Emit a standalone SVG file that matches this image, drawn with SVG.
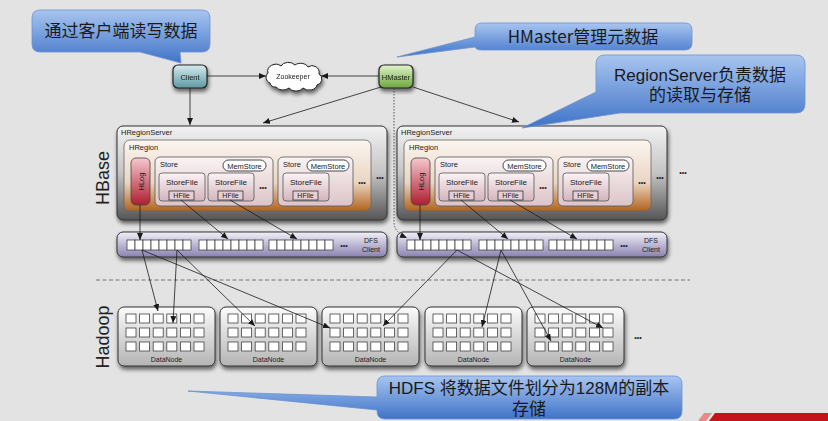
<svg xmlns="http://www.w3.org/2000/svg" xmlns:xlink="http://www.w3.org/1999/xlink" width="828" height="421" viewBox="0 0 828 421">
<style>
.t{font-family:"Liberation Sans",Arial,sans-serif;fill:#1a1a1a}
.s{font-size:7.5px}
.m{text-anchor:middle}
.cj{font-family:"Noto Sans CJK SC","Liberation Sans",sans-serif;font-size:17px;fill:#1a1a1a;text-anchor:middle}
.cl{font-family:"Liberation Sans","Noto Sans CJK SC",sans-serif}
.big{font-family:"Liberation Sans",Arial,sans-serif;font-size:18px;fill:#222;text-anchor:middle}
.co{fill:url(#gCall);stroke:#6d92cf;stroke-width:0.8}
.ln{fill:none;stroke:#1a1a1a;stroke-width:0.8;marker-end:url(#ar)}
.cell{fill:#fff;stroke:#444;stroke-width:0.8}
.hf{fill:#e6cfd4;stroke:#333;stroke-width:0.8}
.pill{fill:#fff;stroke:#333;stroke-width:0.9}
</style>
<defs>
<linearGradient id="gCall" x1="0" y1="0" x2="0" y2="1"><stop offset="0" stop-color="#a8c5f0"/><stop offset="1" stop-color="#3f73c8"/></linearGradient>
<linearGradient id="gCli" x1="0" y1="0" x2="0" y2="1"><stop offset="0" stop-color="#d6ecef"/><stop offset="1" stop-color="#5d98a3"/></linearGradient>
<linearGradient id="gHM" x1="0" y1="0" x2="0" y2="1"><stop offset="0" stop-color="#e2f4cc"/><stop offset="1" stop-color="#6aa83a"/></linearGradient>
<linearGradient id="gRS" x1="0" y1="0" x2="0" y2="1"><stop offset="0" stop-color="#f2f2f2"/><stop offset="0.5" stop-color="#c4c4c4"/><stop offset="1" stop-color="#555"/></linearGradient>
<linearGradient id="gHR" x1="0" y1="0" x2="0" y2="1"><stop offset="0" stop-color="#fbf6f1"/><stop offset="0.6" stop-color="#ead5c2"/><stop offset="1" stop-color="#b2621b"/></linearGradient>
<linearGradient id="gSt" x1="0" y1="0" x2="0" y2="1"><stop offset="0" stop-color="#faf3f3"/><stop offset="1" stop-color="#dcc4c8"/></linearGradient>
<linearGradient id="gSF" x1="0" y1="0" x2="0" y2="1"><stop offset="0" stop-color="#fbf3f5"/><stop offset="1" stop-color="#d3b4bd"/></linearGradient>
<linearGradient id="gHL" x1="0" y1="0" x2="0" y2="1"><stop offset="0" stop-color="#f6c7cf"/><stop offset="1" stop-color="#ad1e30"/></linearGradient>
<linearGradient id="gDFS" x1="0" y1="0" x2="0" y2="1"><stop offset="0" stop-color="#f2f0f9"/><stop offset="1" stop-color="#8a82b0"/></linearGradient>
<linearGradient id="gDN" x1="0" y1="0" x2="0" y2="1"><stop offset="0" stop-color="#fbfbfb"/><stop offset="1" stop-color="#b4b4b4"/></linearGradient>
<filter id="sh" x="-10%" y="-20%" width="125%" height="150%">
<feGaussianBlur in="SourceAlpha" stdDeviation="2"/><feOffset dx="1" dy="3"/>
<feComponentTransfer><feFuncA type="linear" slope="0.6"/></feComponentTransfer>
<feMerge><feMergeNode/><feMergeNode in="SourceGraphic"/></feMerge></filter>
<marker id="ar" markerWidth="7" markerHeight="6" refX="7" refY="3" orient="auto" markerUnits="userSpaceOnUse"><path d="M0,0 L7,3 L0,6 z" fill="#1a1a1a"/></marker>
<g id="brow">
<rect class="cell" x="0" y="0" width="8" height="10"/><rect class="cell" x="8" y="0" width="8" height="10"/><rect class="cell" x="16" y="0" width="8" height="10"/><rect class="cell" x="24" y="0" width="8" height="10"/><rect class="cell" x="32" y="0" width="8" height="10"/><rect class="cell" x="40" y="0" width="8" height="10"/><rect class="cell" x="48" y="0" width="8" height="10"/><rect class="cell" x="56" y="0" width="8" height="10"/>
</g>
<g id="dnrow">
<rect class="cell" x="0" y="0" width="10" height="9"/><rect class="cell" x="13.6" y="0" width="10" height="9"/><rect class="cell" x="27.2" y="0" width="10" height="9"/><rect class="cell" x="40.8" y="0" width="10" height="9"/><rect class="cell" x="54.4" y="0" width="10" height="9"/><rect class="cell" x="68" y="0" width="10" height="9"/>
</g>
<g id="dncells">
<use xlink:href="#dnrow" y="0"/><use xlink:href="#dnrow" y="14"/><use xlink:href="#dnrow" y="28"/>
</g>
</defs>
<rect width="828" height="421" fill="#e3e3e3"/>
<g id="divider"><line x1="96" y1="280" x2="690" y2="280" stroke="#555" stroke-width="0.8" stroke-dasharray="4,2.5"/></g>
<text class="big" transform="translate(109,178) rotate(-90)">HBase</text>
<text class="big" transform="translate(109,337) rotate(-90)">Hadoop</text>

<g id="client" filter="url(#sh)"><rect x="173" y="65" width="34" height="23" rx="5" fill="url(#gCli)" stroke="#222" stroke-width="1.2"/><text class="t s m" x="190" y="79.5">Client</text></g>
<g id="zookeeper" filter="url(#sh)"><path d="M270,83 A6,6 0 0 1 268,73 A8,7 0 0 1 281,66 A8,6 0 0 1 295,65 A8,6 0 0 1 308,67 A7,7 0 0 1 319,74 A6,6 0 0 1 317,85 A8,6 0 0 1 303,88 A8,6 0 0 1 289,88 A8,6 0 0 1 276,87 A5,5 0 0 1 270,83 Z" fill="#fff" stroke="#222" stroke-width="1"/><text class="t m" font-size="7" x="293" y="79">Zookeeper</text></g>
<g id="hmaster" filter="url(#sh)"><rect x="379" y="65" width="34" height="23" rx="5" fill="url(#gHM)" stroke="#222" stroke-width="1.2"/><text class="t s m" x="396" y="79.5">HMaster</text></g>

<g id="regionserver1">
<rect x="117" y="126" width="270" height="94" rx="6" fill="url(#gRS)" stroke="#333" stroke-width="1" filter="url(#sh)"/>
<text class="t s" x="121" y="135">HRegionServer</text>
<rect x="124" y="140" width="247" height="71" rx="6" fill="url(#gHR)" stroke="#666" stroke-width="0.8"/>
<text class="t s" x="129" y="150">HRegion</text>
<rect x="131" y="158" width="19" height="47" rx="5" fill="url(#gHL)" stroke="#444" stroke-width="0.8"/>
<text class="t s m" transform="translate(143.5,181.5) rotate(-90)">HLog</text>
<rect x="155" y="157" width="118" height="49" rx="5" fill="url(#gSt)" stroke="#555" stroke-width="0.8"/>
<text class="t s" x="160" y="167">Store</text>
<rect class="pill" x="223" y="160" width="43" height="11" rx="5.5"/><text class="t s m" x="244.5" y="168.5">MemStore</text>
<rect x="159" y="173" width="46" height="28" rx="3" fill="url(#gSF)" stroke="#555" stroke-width="0.8"/><text class="t m" font-size="8" x="182" y="185">StoreFile</text>
<rect class="hf" x="169" y="191" width="25" height="9"/><text class="t m" font-size="7" x="181.5" y="198.3">HFile</text>
<rect x="208" y="173" width="46" height="28" rx="3" fill="url(#gSF)" stroke="#555" stroke-width="0.8"/><text class="t m" font-size="8" x="231" y="185">StoreFile</text>
<rect class="hf" x="218" y="191" width="25" height="9"/><text class="t m" font-size="7" x="230.5" y="198.3">HFile</text>
<text class="t m" font-size="7" x="263" y="190">•••</text>
<rect x="278" y="157" width="75" height="49" rx="5" fill="url(#gSt)" stroke="#555" stroke-width="0.8"/>
<text class="t s" x="283" y="167">Store</text>
<rect class="pill" x="307" y="160" width="42" height="11" rx="5.5"/><text class="t s m" x="328" y="168.5">MemStore</text>
<rect x="283" y="173" width="46" height="28" rx="3" fill="url(#gSF)" stroke="#555" stroke-width="0.8"/><text class="t m" font-size="8" x="306" y="185">StoreFile</text>
<rect class="hf" x="293" y="191" width="25" height="9"/><text class="t m" font-size="7" x="305.5" y="198.3">HFile</text>
<text class="t m" font-size="7" x="362" y="185">•••</text>
<text class="t m" font-size="7" x="380" y="180">•••</text>
</g>

<g id="regionserver2" transform="translate(280,0)">
<rect x="117" y="126" width="270" height="94" rx="6" fill="url(#gRS)" stroke="#333" stroke-width="1" filter="url(#sh)"/>
<text class="t s" x="121" y="135">HRegionServer</text>
<rect x="124" y="140" width="247" height="71" rx="6" fill="url(#gHR)" stroke="#666" stroke-width="0.8"/>
<text class="t s" x="129" y="150">HRegion</text>
<rect x="131" y="158" width="19" height="47" rx="5" fill="url(#gHL)" stroke="#444" stroke-width="0.8"/>
<text class="t s m" transform="translate(143.5,181.5) rotate(-90)">HLog</text>
<rect x="155" y="157" width="118" height="49" rx="5" fill="url(#gSt)" stroke="#555" stroke-width="0.8"/>
<text class="t s" x="160" y="167">Store</text>
<rect class="pill" x="223" y="160" width="43" height="11" rx="5.5"/><text class="t s m" x="244.5" y="168.5">MemStore</text>
<rect x="159" y="173" width="46" height="28" rx="3" fill="url(#gSF)" stroke="#555" stroke-width="0.8"/><text class="t m" font-size="8" x="182" y="185">StoreFile</text>
<rect class="hf" x="169" y="191" width="25" height="9"/><text class="t m" font-size="7" x="181.5" y="198.3">HFile</text>
<rect x="208" y="173" width="46" height="28" rx="3" fill="url(#gSF)" stroke="#555" stroke-width="0.8"/><text class="t m" font-size="8" x="231" y="185">StoreFile</text>
<rect class="hf" x="218" y="191" width="25" height="9"/><text class="t m" font-size="7" x="230.5" y="198.3">HFile</text>
<text class="t m" font-size="7" x="263" y="190">•••</text>
<rect x="278" y="157" width="75" height="49" rx="5" fill="url(#gSt)" stroke="#555" stroke-width="0.8"/>
<text class="t s" x="283" y="167">Store</text>
<rect class="pill" x="307" y="160" width="42" height="11" rx="5.5"/><text class="t s m" x="328" y="168.5">MemStore</text>
<rect x="283" y="173" width="46" height="28" rx="3" fill="url(#gSF)" stroke="#555" stroke-width="0.8"/><text class="t m" font-size="8" x="306" y="185">StoreFile</text>
<rect class="hf" x="293" y="191" width="25" height="9"/><text class="t m" font-size="7" x="305.5" y="198.3">HFile</text>
<text class="t m" font-size="7" x="362" y="185">•••</text>
<text class="t m" font-size="7" x="380" y="180">•••</text>
<text class="t m" font-size="7" x="403" y="175">•••</text>
</g>

<g id="dfsclient1">
<rect x="117" y="232" width="270" height="25" rx="6" fill="url(#gDFS)" stroke="#333" stroke-width="1" filter="url(#sh)"/>
<use xlink:href="#brow" x="127" y="240"/><use xlink:href="#brow" x="199" y="240"/><use xlink:href="#brow" x="269" y="240"/>
<text class="t m" font-size="7" x="344" y="248">•••</text>
<text class="t m" font-size="7" x="371" y="243">DFS<tspan x="371" dy="9">Client</tspan></text>
</g>
<g id="dfsclient2">
<rect x="397" y="232" width="270" height="25" rx="6" fill="url(#gDFS)" stroke="#333" stroke-width="1" filter="url(#sh)"/>
<use xlink:href="#brow" x="407" y="240"/><use xlink:href="#brow" x="479" y="240"/><use xlink:href="#brow" x="549" y="240"/>
<text class="t m" font-size="7" x="624" y="248">•••</text>
<text class="t m" font-size="7" x="651" y="243">DFS<tspan x="651" dy="9">Client</tspan></text>
</g>

<g id="datanode1"><rect x="118" y="307" width="97" height="59" rx="6" fill="url(#gDN)" stroke="#333" stroke-width="1" filter="url(#sh)"/><use xlink:href="#dncells" x="126" y="314"/><text class="t m" font-size="7" x="166.5" y="362">DataNode</text></g>
<g id="datanode2"><rect x="220" y="307" width="97" height="59" rx="6" fill="url(#gDN)" stroke="#333" stroke-width="1" filter="url(#sh)"/><use xlink:href="#dncells" x="228" y="314"/><text class="t m" font-size="7" x="268.5" y="362">DataNode</text></g>
<g id="datanode3"><rect x="322" y="307" width="97" height="59" rx="6" fill="url(#gDN)" stroke="#333" stroke-width="1" filter="url(#sh)"/><use xlink:href="#dncells" x="330" y="314"/><text class="t m" font-size="7" x="370.5" y="362">DataNode</text></g>
<g id="datanode4"><rect x="425" y="307" width="97" height="59" rx="6" fill="url(#gDN)" stroke="#333" stroke-width="1" filter="url(#sh)"/><use xlink:href="#dncells" x="433" y="314"/><text class="t m" font-size="7" x="473.5" y="362">DataNode</text></g>
<g id="datanode5"><rect x="527" y="307" width="97" height="59" rx="6" fill="url(#gDN)" stroke="#333" stroke-width="1" filter="url(#sh)"/><use xlink:href="#dncells" x="535" y="314"/><text class="t m" font-size="7" x="575.5" y="362">DataNode</text></g>
<text class="t m" font-size="7" x="638" y="340">•••</text>

<g id="connectors">
<line class="ln" x1="207" y1="76" x2="266" y2="76"/>
<line class="ln" x1="379" y1="76" x2="321" y2="76"/>
<line class="ln" x1="190" y1="88" x2="190" y2="125"/>
<line class="ln" x1="381" y1="87" x2="263" y2="123"/>
<line class="ln" x1="413" y1="87" x2="519" y2="122"/>
<path d="M394,88 V222 Q394,232 407,238" fill="none" stroke="#333" stroke-width="0.8" stroke-dasharray="1.5,1.5" marker-end="url(#ar)"/>
<line class="ln" x1="140" y1="205" x2="140" y2="240"/>
<line class="ln" x1="181" y1="200" x2="228" y2="239"/>
<line class="ln" x1="230" y1="200" x2="297" y2="239"/>
<line class="ln" x1="420" y1="205" x2="420" y2="240"/>
<line class="ln" x1="461" y1="200" x2="508" y2="239"/>
<line class="ln" x1="510" y1="200" x2="577" y2="239"/>
<line class="ln" x1="142" y1="250" x2="158" y2="311"/>
<line class="ln" x1="142" y1="250" x2="330" y2="328"/>
<line class="ln" x1="177" y1="250" x2="173" y2="323"/>
<line class="ln" x1="177" y1="250" x2="255" y2="326"/>
<line class="ln" x1="457" y1="250" x2="383" y2="326"/>
<line class="ln" x1="457" y1="250" x2="603" y2="328"/>
<line class="ln" x1="501" y1="250" x2="482" y2="327"/>
<line class="ln" x1="501" y1="250" x2="551" y2="341"/>
</g>

<g id="callout1"><path class="co" d="M40,10 H202 Q210,10 210,18 V44 Q210,52 202,52 H180 L181,63 L140,52 H40 Q32,52 32,44 V18 Q32,10 40,10 Z"/><text class="cj" x="121" y="37">通过客户端读写数据</text></g>
<g id="callout2"><path class="co" d="M482,23 H685 Q692,23 692,30 V43 Q692,50 685,50 H482 Q476,50 475,47 L397,57 L475,37 V30 Q475,23 482,23 Z"/><text class="cj" x="583" y="43">HMaster管理元数据</text></g>
<g id="callout3"><path class="co" d="M605,55 H796 Q805,55 805,64 V104 Q805,113 796,113 H620 L522,128 L596,92 V64 Q596,55 605,55 Z"/><text class="cj cl" x="700" y="81">RegionServer负责数据<tspan x="700" dy="20">的读取与存储</tspan></text></g>
<g id="callout4"><path class="co" d="M385,376 H674 Q682,376 682,384 V411 Q682,419 674,419 H385 Q377,419 377,411 V410 L188,391 L377,397 V384 Q377,376 385,376 Z"/><text class="cj cl" x="529" y="394">HDFS 将数据文件划分为128M的副本<tspan x="529" dy="21">存储</tspan></text></g>

<polygon points="698,421 704,413 712,413 706,421" fill="#e68a8a"/>
<polygon points="709,421 715,413 828,413 828,421" fill="#c3141c"/>
</svg>
